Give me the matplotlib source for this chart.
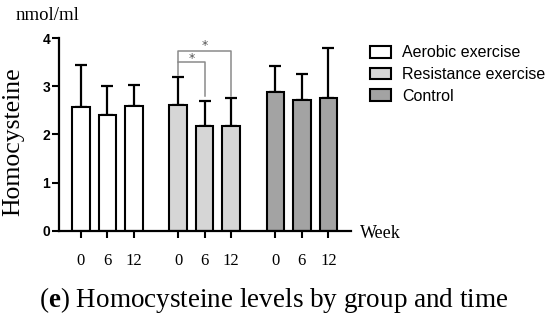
import numpy as np
import matplotlib
matplotlib.use('Agg')
import matplotlib.pyplot as plt
from matplotlib.patches import Patch

plt.rcParams['mathtext.fontset'] = 'custom'
plt.rcParams['mathtext.rm'] = 'Liberation Serif'
plt.rcParams['mathtext.bf'] = 'Liberation Serif:bold'

groups = ['Aerobic exercise', 'Resistance exercise', 'Control']
weeks = ['0', '6', '12']
means = [[2.57, 2.41, 2.60],
         [2.61, 2.17, 2.17],
         [2.89, 2.71, 2.75]]
sds = [[0.88, 0.59, 0.42],
       [0.58, 0.53, 0.58],
       [0.52, 0.54, 1.05]]
colors = ['#ffffff', '#d6d6d6', '#a3a3a3']

serif = 'Liberation Serif'
sans = 'Liberation Sans'

fig = plt.figure(figsize=(5.5, 3.2), dpi=100)
ax = fig.add_axes([0.1067, 0.279, 0.638 - 0.1067, 0.881 - 0.279])

gap = 3.67
pos = []
for g in range(3):
    x = np.arange(3) + g * gap
    pos.append(x)
    ax.bar(x, means[g], width=0.66, color=colors[g], edgecolor='black',
           linewidth=1.5, zorder=2)
    ax.errorbar(x, means[g], yerr=[np.zeros(3), sds[g]], fmt='none',
                ecolor='black', elinewidth=1.6, capsize=4, capthick=1.6, zorder=1)

# significance brackets (resistance group)
p = pos[1]
bc = '#8a8a8a'
ax.plot([p[0], p[0], p[1], p[1]], [3.24, 3.51, 3.51, 2.79], color=bc, lw=1.1, clip_on=False)
ax.plot([p[0], p[0], p[2], p[2]], [3.51, 3.74, 3.74, 2.80], color=bc, lw=1.1, clip_on=False)
ax.text((p[0] + p[1]) / 2, 3.58, '*', ha='center', va='center', fontsize=9, color='#555555')
ax.text((p[0] + p[2]) / 2, 3.85, '*', ha='center', va='center', fontsize=9, color='#555555')

ax.set_xlim(-0.84, 10.19)
ax.set_ylim(0, 4)
ax.set_yticks([0, 1, 2, 3, 4])
ax.set_xticks(np.concatenate(pos))
ax.set_xticklabels(weeks * 3, family=serif, fontsize=12)
for lab in ax.get_yticklabels():
    lab.set_family(sans)
    lab.set_fontweight('bold')
    lab.set_fontsize(10)
ax.tick_params(axis='x', length=5, width=1.5, pad=11)
ax.tick_params(axis='y', length=5, width=1.5, pad=1)
for s in ['top', 'right']:
    ax.spines[s].set_visible(False)
for s in ['left', 'bottom']:
    ax.spines[s].set_linewidth(1.6)

handles = [Patch(facecolor=c, edgecolor='black', linewidth=1.5) for c in colors]
fig.legend(handles, groups, loc='upper left', bbox_to_anchor=(0.672, 0.858),
           frameon=False, prop={'family': sans, 'size': 11.5}, handlelength=1.35,
           handleheight=0.75, handletextpad=0.7, labelspacing=0.42, borderpad=0,
           borderaxespad=0)

fig.text(16 / 550, 1 - 15 / 320, 'nmol/ml', family=serif, fontsize=13.5, va='center')
fig.text(13 / 550, 1 - 141.5 / 320, 'Homocysteine', family=serif, fontsize=18.5,
         rotation=90, ha='center', va='center')
fig.text(360 / 550, 1 - 233 / 320, 'Week', family=serif, fontsize=13, va='center')
fig.text(0.497, 1 - 307 / 320, r'($\mathbf{e}$) Homocysteine levels by group and time',
         family=serif, fontsize=19.5, ha='center', va='baseline')

fig.savefig('out.png', dpi=100)
